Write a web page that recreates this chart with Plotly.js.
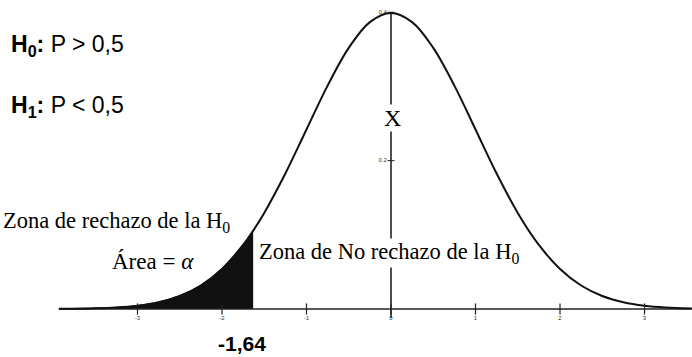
<!DOCTYPE html>
<html>
<head>
<meta charset="utf-8">
<script src="https://cdn.plot.ly/plotly-3.0.1.min.js"></script>
<style>html,body{margin:0;padding:0;background:#fff;}#chart{width:692px;height:357px;}</style>
</head>
<body>
<div id="chart"></div>
<script>
// Density curve
const curveX = [-3.93, -3.5, -3.25, -3.0, -2.75, -2.5, -2.25, -2.0, -1.75, -1.64, -1.5, -1.25, -1.0, -0.75, -0.5, -0.25, 0, 0.25, 0.5, 0.75, 1.0, 1.25, 1.5, 1.75, 2.0, 2.25, 2.5, 2.75, 3.0, 3.25, 3.56];
const curveY = [0.0002, 0.0009, 0.002, 0.0044, 0.0091, 0.0175, 0.0317, 0.054, 0.0863, 0.104, 0.1295, 0.1826, 0.242, 0.3011, 0.352, 0.3867, 0.399, 0.3867, 0.352, 0.3011, 0.242, 0.1826, 0.1295, 0.0863, 0.054, 0.0317, 0.0175, 0.0091, 0.0044, 0.002, 0.0007];
// Rejection tail (shaded)
const tailX = [-3.93, -3.5, -3.25, -3.0, -2.75, -2.5, -2.25, -2.0, -1.75, -1.64];
const tailY = [0.0002, 0.0009, 0.002, 0.0044, 0.0091, 0.0175, 0.0317, 0.054, 0.0863, 0.104];
const criticalValue = -1.64;
const criticalY = 0.104;
// Axes
const axisStartX = -3.93, axisEndX = 3.56;
const tickValues = [-3, -2, -1, 0, 1, 2, 3];
const tickLabels = ['-3', '-2', '-1', '0', '1', '2', '3'];
const peakY = 0.399;
const vAxisLabels = ['0.4', '0.2'];
const vAxisLabelY = [0.4, 0.2];

const black = '#111';
const traces = [
  {x: tailX.concat([criticalValue, criticalValue]), y: tailY.concat([criticalY, 0]), mode: 'lines', fill: 'tozeroy',
   fillcolor: black, line: {color: black, width: 1.5, shape: 'spline'}, hoverinfo: 'skip'},
  {x: [axisStartX, axisEndX], y: [0, 0], mode: 'lines', line: {color: '#222', width: 1.6}, hoverinfo: 'skip'},
  {x: [0, 0], y: [-0.012, peakY], mode: 'lines', line: {color: '#222', width: 1.6}, hoverinfo: 'skip'},
  {x: tickValues, y: tickValues.map(() => 0), mode: 'markers+text', text: tickLabels, textposition: 'bottom center',
   textfont: {size: 6, color: '#333', family: 'Liberation Sans'}, cliponaxis: false,
   marker: {symbol: 'line-ns', size: 8, line: {color: '#222', width: 1.2}}, hoverinfo: 'skip'},
  {x: [0, 0], y: vAxisLabelY, mode: 'markers+text', text: vAxisLabels, textposition: 'middle left',
   textfont: {size: 6, color: '#333', family: 'Liberation Sans'}, cliponaxis: false,
   marker: {symbol: 'line-ew', size: 5, line: {color: '#222', width: 1}}, hoverinfo: 'skip'},
  {x: curveX, y: curveY, mode: 'lines', line: {color: black, width: 2, shape: 'spline'}, hoverinfo: 'skip'}
];

const sans = 'Liberation Sans, Arial, sans-serif';
const serif = 'Liberation Serif, Times New Roman, serif';
function ann(text, px, py, xanchor, font, extra) {
  return Object.assign({text: text, x: px / 692, y: 1 - py / 357, xref: 'paper', yref: 'paper',
    xanchor: xanchor, yanchor: 'middle', showarrow: false, borderpad: 0, font: font}, extra || {});
}
const layout = {
  width: 692, height: 357,
  margin: {l: 0, r: 0, t: 0, b: 0},
  paper_bgcolor: '#fff', plot_bgcolor: '#fff',
  showlegend: false,
  xaxis: {range: [-4.627, 3.562], visible: false, fixedrange: true},
  yaxis: {range: [-0.0647, 0.4165], visible: false, fixedrange: true},
  annotations: [
    ann('<b>H<sub>0</sub>:</b> P &gt; 0,5', 10, 45, 'left', {family: sans, size: 23, color: '#000'}),
    ann('<b>H<sub>1</sub>:</b> P &lt; 0,5', 10, 106, 'left', {family: sans, size: 23, color: '#000'}),
    ann('Zona de rechazo de la H<sub>0</sub>', 2, 222, 'left', {family: serif, size: 22.5, color: '#000'}),
    ann('Área = <i>α</i>', 153, 261, 'center', {family: serif, size: 23, color: '#000'}),
    ann('Zona de No rechazo de la H<sub>0</sub>', 258, 253, 'left', {family: serif, size: 22.5, color: '#000'}, {bgcolor: '#fff'}),
    ann('X', 392, 118, 'center', {family: serif, size: 24, color: '#000'}, {bgcolor: '#fff'}),
    ann('<b>-1,64</b>', 242, 343, 'center', {family: sans, size: 21, color: '#000'})
  ]
};
Plotly.newPlot('chart', traces, layout, {displayModeBar: false, staticPlot: true});
</script>
</body>
</html>
